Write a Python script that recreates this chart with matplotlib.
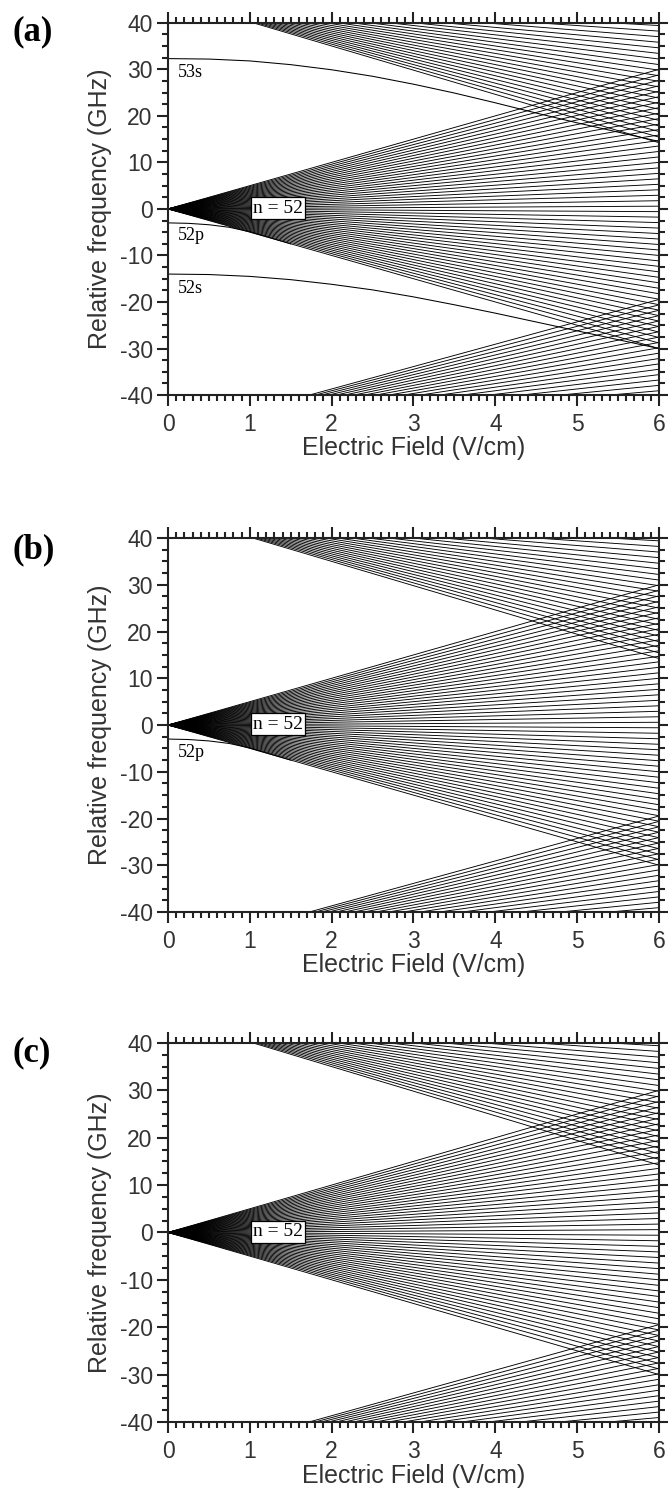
import numpy as np
import matplotlib.pyplot as plt
from matplotlib.ticker import MultipleLocator

plt.rcParams['axes.unicode_minus'] = False
plt.rcParams['font.family'] = ['Liberation Sans', 'DejaVu Sans']

# field range of the Stark map (V/cm)
field = np.array([0.0, 6.0])

# hydrogenic manifolds: principal quantum number and zero-field offset (GHz)
manifold_n = [51, 52, 53]
manifold_offset = [-48.3, 0.0, 45.4]
stark_ghz = 1.885e-3   # 3/2 e a0, GHz per V/cm

s53_field = [0, 0.5, 1, 1.5, 2, 2.5, 3, 3.5, 4, 4.5, 5, 5.5, 6]
s53_freq = [32.3, 32.2, 31.8, 31.0, 29.9, 28.5, 26.8, 24.9, 22.8, 20.6, 18.5, 16.5, 14.5]
p52_field = [0, 0.25, 0.5, 0.75, 1.0, 1.25, 1.5]
p52_freq = [-3.0, -3.1, -3.4, -3.95, -4.9, -6.2, -7.5]
s52_field = [0, 0.5, 1, 1.5, 2, 2.5, 3, 3.5, 4, 4.5, 5, 5.5, 6]
s52_freq = [-14.0, -14.1, -14.5, -15.2, -16.2, -17.4, -18.9, -20.6, -22.4, -24.3, -26.2, -28.1, -30.0]

states = {
    '53s': (s53_field, s53_freq),
    '52p': (p52_field, p52_freq),
    '52s': (s52_field, s52_freq),
}
# where each state name sits (field, frequency)
state_label_pos = {'53s': (0.12, 29.3), '52p': (0.12, -5.8), '52s': (0.12, -17.2)}

panel_names = ['(a)', '(b)', '(c)']
panel_states = [['53s', '52p', '52s'], ['52p'], []]

# axes rectangles in figure fractions
panel_rects = [
    [0.2515, 0.7345, 0.735, 0.2502],
    [0.2515, 0.3871, 0.735, 0.2513],
    [0.2515, 0.0444, 0.735, 0.2547],
]
panel_label_y = [0.9785, 0.6304, 0.2925]

serif = ['Liberation Serif', 'DejaVu Serif']
txt_color = '#333333'

fig = plt.figure(figsize=(6.68, 14.88), dpi=100)

for name, st, rect, ly in zip(panel_names, panel_states, panel_rects, panel_label_y):
    ax = fig.add_axes(rect)

    # Stark manifolds, one straight line per k
    for n, off in zip(manifold_n, manifold_offset):
        for k in np.arange(-(n - 1), n, 2):
            ax.plot(field, off + stark_ghz * n * k * field, color='black', lw=0.65)

    for s in st:
        fx, fy = states[s]
        ax.plot(fx, fy, color='black', lw=0.75)
        lx, lyy = state_label_pos[s]
        ax.text(lx, lyy, s, family=serif, fontsize=13,
                ha='left', va='center', color='black')

    ax.text(1.344, 0.15, 'n = 52', family=serif, fontsize=14,
            ha='center', va='center', zorder=5,
            bbox=dict(boxstyle='square,pad=0.12', fc='white', ec='black', lw=0.9))

    ax.set_xlim(0, 6)
    ax.set_ylim(-40, 40)
    ax.set_xticks(range(7))
    ax.xaxis.set_minor_locator(MultipleLocator(0.1))
    ax.yaxis.set_major_locator(MultipleLocator(10))
    ax.yaxis.set_minor_locator(MultipleLocator(2.5))
    ax.tick_params(which='both', direction='out', top=True, right=True,
                   width=1.5, color='#222222', labelcolor=txt_color, labelsize=16.5)
    ax.tick_params(which='major', length=8)
    ax.tick_params(which='minor', length=4)
    ax.tick_params(axis='x', pad=5)
    ax.tick_params(axis='y', pad=3)
    for sp in ax.spines.values():
        sp.set_linewidth(1.5)
        sp.set_color('#222222')

    ax.set_xlabel('Electric Field (V/cm)', fontsize=18, color=txt_color)
    ax.set_ylabel('Relative frequency (GHz)', fontsize=18, color=txt_color)
    ax.xaxis.set_label_coords(0.5, -0.11)
    ax.yaxis.set_label_coords(-0.114, 0.5)

    fig.text(0.019, ly, name, family=serif, fontsize=25, fontweight='bold',
             va='center', ha='left')

fig.savefig('out.png', dpi=100)
